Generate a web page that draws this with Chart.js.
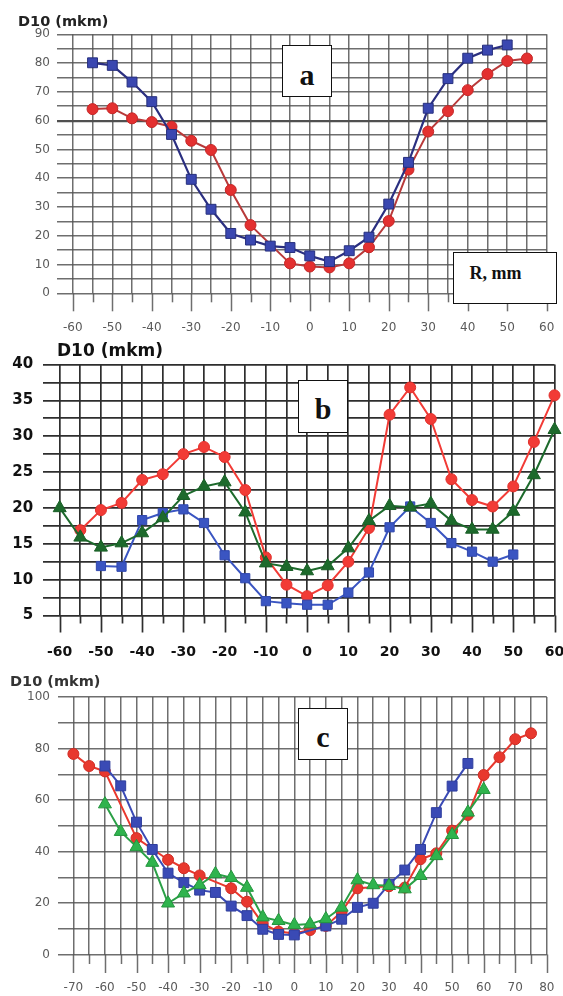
<!DOCTYPE html>
<html>
<head>
<meta charset="utf-8">
<script src="https://cdn.jsdelivr.net/npm/chart.js@4.4.1/dist/chart.umd.min.js"></script>
<style>
  html, body { margin: 0; padding: 0; background: #fff; }
  #page { position: relative; width: 563px; height: 996px; overflow: hidden; background: #fff; }
  .panel { position: absolute; left: 0; }
  .ttl { position: absolute; font-family: "DejaVu Sans", sans-serif; font-weight: bold; line-height: 1; white-space: nowrap; }
  .box { position: absolute; box-sizing: border-box; border: 1.5px solid #111; background: #fff;
         font-family: "Liberation Serif", serif; font-weight: bold; color: #111; }
  .box span { position: absolute; line-height: 1; white-space: nowrap; }
</style>
</head>
<body>
<div id="page">
  <canvas id="chartA" class="panel" width="563" height="340" style="top:0px"></canvas>
  <canvas id="chartB" class="panel" width="563" height="322" style="top:340px"></canvas>
  <canvas id="chartC" class="panel" width="563" height="334" style="top:662px"></canvas>

  <div class="ttl" style="left:18px; top:13.5px; font-size:14.5px; color:#222;">D10 (mkm)</div>
  <div class="ttl" style="left:57px; top:341.5px; font-size:17px; color:#111;">D10 (mkm)</div>
  <div class="ttl" style="left:10px; top:674.3px; font-size:14.5px; color:#333;">D10 (mkm)</div>

  <div class="box" style="left:282px; top:45px; width:50px; height:52px; font-size:30px;"><span style="left:0; right:0; text-align:center; top:14.4px;">a</span></div>
  <div class="box" style="left:453px; top:252px; width:104px; height:52px; font-size:18px;"><span style="left:15.5px; top:11.4px;">R, mm</span></div>
  <div class="box" style="left:298px; top:380px; width:50px; height:53px; font-size:30px;"><span style="left:0; right:0; text-align:center; top:13.4px;">b</span></div>
  <div class="box" style="left:298px; top:708px; width:50px; height:52px; font-size:30px;"><span style="left:0; right:0; text-align:center; top:13.4px;">c</span></div>
</div>

<script>
// ---------- panel a: D10 vs radius R, mm ----------
const aLabelsX = [-60, -50, -40, -30, -20, -10, 0, 10, 20, 30, 40, 50, 60];
const aLabelsY = [0, 10, 20, 30, 40, 50, 60, 70, 80, 90];
const aBlueR   = [-55, -50, -45, -40, -35, -30, -25, -20, -15, -10, -5, 0, 5, 10, 15, 20, 25, 30, 35, 40, 45, 50];
const aBlueD10 = [80.1, 79.2, 73.4, 66.6, 55.2, 39.6, 29.2, 20.8, 18.5, 16.4, 15.9, 13.0, 11.0, 14.8, 19.5, 31.0, 45.5, 64.3, 74.6, 81.7, 84.5, 86.3];
const aRedR    = [-55, -50, -45, -40, -35, -30, -25, -20, -15, -5, 0, 5, 10, 15, 20, 25, 30, 35, 40, 45, 50, 55];
const aRedD10  = [64.0, 64.3, 60.8, 59.5, 57.9, 53.0, 49.8, 35.9, 23.7, 10.4, 9.3, 9.0, 10.4, 16.0, 25.1, 43.0, 56.2, 63.3, 70.6, 76.2, 80.7, 81.6];

// ---------- panel b ----------
const bLabelsX = [-60, -50, -40, -30, -20, -10, 0, 10, 20, 30, 40, 50, 60];
const bLabelsY = [5, 10, 15, 20, 25, 30, 35, 40];
const bBlueR    = [-50, -45, -40, -35, -30, -25, -20, -15, -10, -5, 0, 5, 10, 15, 20, 25, 30, 35, 40, 45, 50];
const bBlueD10  = [11.9, 11.8, 18.3, 19.3, 19.8, 17.9, 13.4, 10.2, 7.0, 6.7, 6.5, 6.5, 8.2, 11.0, 17.3, 20.2, 17.9, 15.1, 13.9, 12.5, 13.5];
const bGreenR   = [-60, -55, -50, -45, -40, -35, -30, -25, -20, -15, -10, -5, 0, 5, 10, 15, 20, 25, 30, 35, 40, 45, 50, 55, 60];
const bGreenD10 = [20.0, 15.9, 14.5, 15.1, 16.5, 18.6, 21.7, 23.0, 23.6, 19.4, 12.3, 11.8, 11.2, 11.9, 14.4, 18.2, 20.3, 20.1, 20.6, 18.2, 17.0, 17.0, 19.5, 24.6, 30.9];
const bRedR     = [-55, -50, -45, -40, -35, -30, -25, -20, -15, -10, -5, 0, 5, 10, 15, 20, 25, 30, 35, 40, 45, 50, 55, 60];
const bRedD10   = [16.9, 19.7, 20.7, 23.9, 24.7, 27.5, 28.5, 27.1, 22.5, 13.1, 9.3, 7.7, 9.2, 12.5, 17.2, 33.0, 36.8, 32.4, 24.0, 21.1, 20.2, 23.0, 29.2, 35.7];

// ---------- panel c ----------
const cLabelsX = [-70, -60, -50, -40, -30, -20, -10, 0, 10, 20, 30, 40, 50, 60, 70, 80];
const cLabelsY = [0, 20, 40, 60, 80, 100];
const cGreenR   = [-60, -55, -50, -45, -40, -35, -30, -25, -20, -15, -10, -5, 0, 5, 10, 15, 20, 25, 30, 35, 40, 45, 50, 55, 60];
const cGreenD10 = [58.4, 47.7, 41.8, 35.7, 19.9, 23.8, 27.0, 31.3, 29.8, 26.0, 14.5, 13.1, 11.5, 11.8, 13.8, 18.3, 28.9, 27.0, 26.7, 25.4, 30.6, 38.3, 46.5, 55.2, 64.0];
const cBlueR    = [-60, -55, -50, -45, -40, -35, -30, -25, -20, -15, -10, -5, 0, 10, 15, 20, 25, 30, 35, 40, 45, 50, 55];
const cBlueD10  = [73.2, 65.5, 51.4, 40.8, 31.6, 27.9, 25.0, 24.1, 18.8, 15.1, 9.8, 7.8, 7.6, 11.1, 13.7, 18.3, 19.9, 27.3, 32.8, 40.8, 55.1, 65.4, 74.2];
const cRedR     = [-70, -65, -60, -50, -40, -35, -30, -20, -15, -10, -5, 0, 5, 10, 15, 20, 30, 35, 40, 45, 50, 55, 60, 65, 70, 75];
const cRedD10   = [77.9, 73.2, 71.1, 45.2, 36.8, 33.5, 30.7, 25.7, 20.5, 12.0, 8.9, 8.2, 9.5, 11.1, 16.6, 25.7, 26.5, 26.0, 37.0, 39.3, 48.1, 54.2, 69.7, 76.6, 83.6, 85.9];

// pair radius and diameter arrays into {x, y} points
function pts(rs, ds) { return rs.map((r, i) => ({ x: r, y: ds[i] })); }

// values for every grid line of an axis
function gridValues(from, to, step) {
  const out = [];
  for (let v = from; v <= to + 1e-9; v += step) out.push(Math.round(v * 100) / 100);
  return out;
}

// crossing tick marks under the x axis: long at labelled values, short in between
const crossTicks = {
  id: 'crossTicks',
  afterDraw(chart, args, o) {
    const xs = chart.scales.x;
    const bottom = chart.chartArea.bottom;
    const c = chart.ctx;
    c.save();
    c.strokeStyle = o.color;
    c.lineWidth = o.width;
    xs.ticks.forEach(t => {
      const px = Math.round(xs.getPixelForValue(t.value)) + 0.5;
      const len = o.labels.includes(t.value) ? o.long : o.short;
      c.beginPath();
      c.moveTo(px, bottom);
      c.lineTo(px, bottom + len);
      c.stroke();
    });
    c.restore();
  }
};

function buildPanel(id, p) {
  return new Chart(document.getElementById(id), {
    type: 'line',
    data: {
      datasets: p.series.map(s => ({
        data: pts(s.r, s.d),
        borderColor: s.line,
        borderWidth: s.lw,
        pointStyle: s.marker,
        pointRadius: s.radius,
        pointHoverRadius: s.radius,
        pointBackgroundColor: s.fill,
        pointBorderColor: s.edge,
        pointBorderWidth: 1,
        tension: 0,
        fill: false,
        clip: false
      }))
    },
    options: {
      responsive: false,
      animation: false,
      events: [],
      layout: { padding: p.pad },
      plugins: {
        legend: { display: false },
        tooltip: { enabled: false },
        crossTicks: { color: p.gridColor, width: p.gridWidth, long: p.tickLong, short: p.tickShort, labels: p.labelsX }
      },
      scales: {
        x: {
          type: 'linear',
          min: p.xMin, max: p.xMax,
          afterBuildTicks: s => { s.ticks = gridValues(p.xFirst, p.xMax, p.xStep).map(v => ({ value: v })); },
          afterFit: s => { s.height = p.xAxisH; s.paddingLeft = 0; s.paddingRight = 0; },
          border: { display: false },
          grid: { color: p.gridColor, lineWidth: p.gridWidth, drawTicks: false },
          ticks: {
            autoSkip: false, maxRotation: 0, padding: p.xPad,
            font: p.xFont, color: p.tickColor,
            callback: v => p.labelsX.includes(v) ? String(v) : ''
          }
        },
        y: {
          type: 'linear',
          min: p.yMin, max: p.yMax,
          afterBuildTicks: s => { s.ticks = gridValues(p.yMin, p.yMax, p.yStep).map(v => ({ value: v })); },
          afterFit: s => { s.width = p.yAxisW; s.paddingTop = 0; s.paddingBottom = 0; },
          border: { display: false },
          grid: {
            color: c => (p.strongY !== undefined && c.tick && c.tick.value === p.strongY) ? p.strongColor : p.gridColor,
            lineWidth: c => (p.strongY !== undefined && c.tick && c.tick.value === p.strongY) ? p.strongWidth : p.gridWidth,
            drawTicks: false
          },
          ticks: {
            autoSkip: false, padding: p.yPad,
            font: p.yFont, color: p.tickColor,
            callback: v => p.labelsY.includes(v) ? String(v) : ''
          }
        }
      }
    },
    plugins: [crossTicks]
  });
}

buildPanel('chartA', {
  pad: { top: 34.3, right: 16.3, left: 0, bottom: 0 },
  yAxisW: 57, xAxisH: 46.7, xPad: 27.5, yPad: 7,
  xMin: -64, xMax: 60, xFirst: -60, xStep: 5,
  yMin: 0, yMax: 90, yStep: 5,
  labelsX: aLabelsX, labelsY: aLabelsY,
  xFont: { family: 'DejaVu Sans', size: 12 }, yFont: { family: 'DejaVu Sans', size: 12 },
  tickColor: '#5a5a5a',
  gridColor: 'rgba(85,85,85,0.85)', gridWidth: 1.5,
  strongY: 60, strongColor: '#505050', strongWidth: 2.2,
  tickLong: 18, tickShort: 9,
  series: [
    { r: aBlueR, d: aBlueD10, line: '#2b2f80', lw: 2.2, marker: 'rect', radius: 7, fill: '#3a47b0', edge: '#27307e' },
    { r: aRedR, d: aRedD10, line: '#b83a3a', lw: 2, marker: 'circle', radius: 5.5, fill: '#e33030', edge: '#c42626' }
  ]
});

buildPanel('chartB', {
  pad: { top: 24.5, right: 7.5, left: 0, bottom: 0 },
  yAxisW: 43.2, xAxisH: 46.5, xPad: 28.6, yPad: 10,
  xMin: -64, xMax: 60, xFirst: -60, xStep: 5,
  yMin: 5, yMax: 40, yStep: 2.5,
  labelsX: bLabelsX, labelsY: bLabelsY,
  xFont: { family: 'DejaVu Sans', size: 14, weight: 'bold' }, yFont: { family: 'DejaVu Sans', size: 15, weight: 'bold' },
  tickColor: '#111',
  gridColor: '#2e2e2e', gridWidth: 1.7,
  tickLong: 17, tickShort: 8,
  series: [
    { r: bGreenR, d: bGreenD10, line: '#1d6a2c', lw: 2, marker: 'triangle', radius: 7.5, fill: '#1d6a2c', edge: '#1a5f27' },
    { r: bBlueR, d: bBlueD10, line: '#3a55c2', lw: 2, marker: 'rect', radius: 6.5, fill: '#3a55c2', edge: '#3148ad' },
    { r: bRedR, d: bRedD10, line: '#f23b36', lw: 2, marker: 'circle', radius: 5.5, fill: '#f23b36', edge: '#e0302c' }
  ]
});

buildPanel('chartC', {
  pad: { top: 35, right: 16.2, left: 0, bottom: 0 },
  yAxisW: 57.6, xAxisH: 41.5, xPad: 26.3, yPad: 7.6,
  xMin: -75, xMax: 80, xFirst: -70, xStep: 5,
  yMin: 0, yMax: 100, yStep: 10,
  labelsX: cLabelsX, labelsY: cLabelsY,
  xFont: { family: 'DejaVu Sans', size: 12 }, yFont: { family: 'DejaVu Sans', size: 12 },
  tickColor: '#5a5a5a',
  gridColor: 'rgba(85,85,85,0.85)', gridWidth: 1.5,
  tickLong: 18.5, tickShort: 9.5,
  series: [
    { r: cGreenR, d: cGreenD10, line: '#2aa046', lw: 2, marker: 'triangle', radius: 7.5, fill: '#2fb34d', edge: '#23953d' },
    { r: cBlueR, d: cBlueD10, line: '#3a4ab5', lw: 2, marker: 'rect', radius: 7, fill: '#3a4ab5', edge: '#2f3e9e' },
    { r: cRedR, d: cRedD10, line: '#e8382e', lw: 2, marker: 'circle', radius: 5.5, fill: '#e8382e', edge: '#d02c24' }
  ]
});
</script>
</body>
</html>
